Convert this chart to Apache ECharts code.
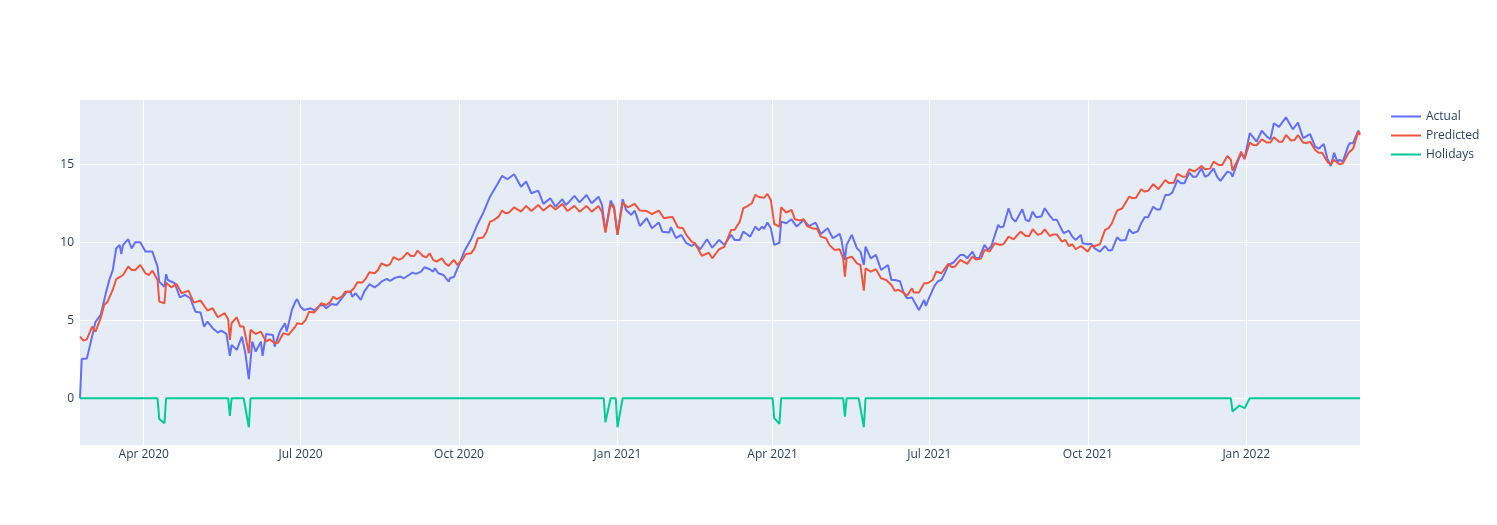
<!DOCTYPE html>
<html>
<head>
<meta charset="utf-8">
<script src="https://cdn.jsdelivr.net/npm/echarts@6/dist/echarts.min.js"></script>
<style>
html,body{margin:0;padding:0;background:#fff;}
#chart{width:1497px;height:525px;}
</style>
</head>
<body>
<div id="chart"></div>
<script>
const seriesNames = ["Actual", "Predicted", "Holidays"];
const xTickDates = ["2020-04-01","2020-07-01","2020-10-01","2021-01-01","2021-04-01","2021-07-01","2021-10-01","2022-01-01"];
const xTickLabels = ["Apr 2020","Jul 2020","Oct 2020","Jan 2021","Apr 2021","Jul 2021","Oct 2021","Jan 2022"];
const yTicks = [0, 5, 10, 15];
const xRange = ["2020-02-24", "2022-03-08"];
const yRange = [-3, 19.12];

const actual = [["2020-02-24",0],["2020-02-25",2.52],["2020-02-28",2.55],["2020-03-02",3.95],["2020-03-04",4.9],["2020-03-07",5.34],["2020-03-10",6.73],["2020-03-12",7.58],["2020-03-14",8.2],["2020-03-16",9.6],["2020-03-18",9.83],["2020-03-19",9.25],["2020-03-20",9.83],["2020-03-23",10.19],["2020-03-25",9.6],["2020-03-27",10.0],["2020-03-30",10.0],["2020-04-02",9.4],["2020-04-06",9.4],["2020-04-09",8.44],["2020-04-10",7.47],["2020-04-13",7.15],["2020-04-14",7.95],["2020-04-15",7.58],["2020-04-19",7.37],["2020-04-22",6.47],["2020-04-25",6.62],["2020-04-28",6.41],["2020-05-01",5.55],["2020-05-04",5.49],["2020-05-06",4.59],["2020-05-08",4.91],["2020-05-11",4.49],["2020-05-14",4.21],["2020-05-16",4.33],["2020-05-19",4.12],["2020-05-21",2.71],["2020-05-22",3.42],["2020-05-25",3.1],["2020-05-28",3.95],["2020-05-30",2.88],["2020-06-01",1.22],["2020-06-03",3.63],["2020-06-05",2.99],["2020-06-08",3.63],["2020-06-09",2.71],["2020-06-11",4.12],["2020-06-15",4.06],["2020-06-16",3.31],["2020-06-19",4.27],["2020-06-22",4.81],["2020-06-23",4.27],["2020-06-26",5.66],["2020-06-28",6.19],["2020-06-29",6.35],["2020-07-01",5.87],["2020-07-03",5.66],["2020-07-07",5.77],["2020-07-09",5.62],["2020-07-12",5.92],["2020-07-14",5.98],["2020-07-16",5.77],["2020-07-19",6.04],["2020-07-22",5.98],["2020-07-25",6.41],["2020-07-28",6.83],["2020-07-30",6.83],["2020-07-31",6.51],["2020-08-02",6.73],["2020-08-05",6.3],["2020-08-07",6.83],["2020-08-10",7.31],["2020-08-13",7.11],["2020-08-15",7.26],["2020-08-17",7.47],["2020-08-20",7.65],["2020-08-22",7.52],["2020-08-25",7.73],["2020-08-28",7.8],["2020-08-30",7.69],["2020-09-02",7.9],["2020-09-04",8.05],["2020-09-06",7.97],["2020-09-09",8.12],["2020-09-11",8.4],["2020-09-14",8.27],["2020-09-16",8.12],["2020-09-17",8.33],["2020-09-19",8.01],["2020-09-22",7.9],["2020-09-25",7.47],["2020-09-26",7.73],["2020-09-28",7.76],["2020-10-01",8.54],["2020-10-04",9.4],["2020-10-08",10.19],["2020-10-12",11.22],["2020-10-15",11.86],["2020-10-19",12.92],["2020-10-23",13.67],["2020-10-26",14.25],["2020-10-29",14.04],["2020-10-30",14.0],["2020-11-02",14.36],["2020-11-06",13.56],["2020-11-09",13.89],["2020-11-12",13.14],["2020-11-16",13.31],["2020-11-19",12.46],["2020-11-23",12.82],["2020-11-26",12.28],["2020-11-30",12.76],["2020-12-02",12.39],["2020-12-04",12.6],["2020-12-07",12.97],["2020-12-10",12.56],["2020-12-14",13.03],["2020-12-17",12.5],["2020-12-21",12.92],["2020-12-23",12.39],["2020-12-25",10.68],["2020-12-28",12.67],["2020-12-30",12.28],["2021-01-01",10.47],["2021-01-04",12.76],["2021-01-06",12.07],["2021-01-09",11.75],["2021-01-11",12.03],["2021-01-14",11.04],["2021-01-18",11.54],["2021-01-21",10.9],["2021-01-25",11.26],["2021-01-27",10.68],["2021-01-31",10.62],["2021-02-01",10.96],["2021-02-04",10.26],["2021-02-07",10.47],["2021-02-10",9.94],["2021-02-13",9.76],["2021-02-15",9.89],["2021-02-18",9.55],["2021-02-22",10.19],["2021-02-25",9.65],["2021-03-01",10.15],["2021-03-04",9.84],["2021-03-08",10.47],["2021-03-10",10.15],["2021-03-13",10.15],["2021-03-15",10.68],["2021-03-17",10.53],["2021-03-19",10.36],["2021-03-22",11.0],["2021-03-24",10.77],["2021-03-26",11.0],["2021-03-27",10.85],["2021-03-29",11.26],["2021-03-31",10.9],["2021-04-02",9.83],["2021-04-05",9.97],["2021-04-06",11.32],["2021-04-09",11.22],["2021-04-12",11.47],["2021-04-15",11.0],["2021-04-19",11.43],["2021-04-22",11.04],["2021-04-26",11.26],["2021-04-29",10.53],["2021-05-03",10.9],["2021-05-06",10.26],["2021-05-10",10.53],["2021-05-11",10.15],["2021-05-13",8.87],["2021-05-14",9.83],["2021-05-17",10.47],["2021-05-20",9.61],["2021-05-22",9.4],["2021-05-24",8.54],["2021-05-25",9.72],["2021-05-28",8.97],["2021-05-31",9.19],["2021-06-03",8.22],["2021-06-07",8.54],["2021-06-09",7.58],["2021-06-11",7.58],["2021-06-14",7.5],["2021-06-16",6.77],["2021-06-18",6.41],["2021-06-21",6.45],["2021-06-23",6.04],["2021-06-25",5.66],["2021-06-28",6.3],["2021-06-29",5.92],["2021-07-01",6.47],["2021-07-04",7.2],["2021-07-06",7.5],["2021-07-08",7.58],["2021-07-10",8.01],["2021-07-12",8.54],["2021-07-15",8.7],["2021-07-19",9.19],["2021-07-21",9.19],["2021-07-23",8.97],["2021-07-26",9.4],["2021-07-28",8.97],["2021-07-30",9.0],["2021-08-02",9.83],["2021-08-04",9.51],["2021-08-06",9.76],["2021-08-10",11.11],["2021-08-11",10.96],["2021-08-13",11.0],["2021-08-16",12.18],["2021-08-18",11.54],["2021-08-20",11.32],["2021-08-24",12.11],["2021-08-26",11.43],["2021-08-28",11.35],["2021-08-30",11.96],["2021-09-01",11.6],["2021-09-04",11.65],["2021-09-06",12.18],["2021-09-09",11.69],["2021-09-11",11.43],["2021-09-13",11.45],["2021-09-15",11.0],["2021-09-17",10.58],["2021-09-20",10.74],["2021-09-22",10.36],["2021-09-24",10.15],["2021-09-27",10.47],["2021-09-28",9.94],["2021-10-01",9.87],["2021-10-03",9.9],["2021-10-05",9.61],["2021-10-08",9.4],["2021-10-11",9.76],["2021-10-13",9.47],["2021-10-15",9.5],["2021-10-18",10.32],["2021-10-20",10.11],["2021-10-23",10.15],["2021-10-25",10.83],["2021-10-27",10.58],["2021-10-30",10.7],["2021-11-01",11.22],["2021-11-03",11.6],["2021-11-05",11.6],["2021-11-08",12.28],["2021-11-10",12.1],["2021-11-12",12.1],["2021-11-15",13.03],["2021-11-17",13.03],["2021-11-19",13.18],["2021-11-22",13.99],["2021-11-24",13.78],["2021-11-26",13.78],["2021-11-29",14.46],["2021-12-01",14.2],["2021-12-03",14.2],["2021-12-06",14.74],["2021-12-08",14.2],["2021-12-10",14.3],["2021-12-13",14.74],["2021-12-15",14.2],["2021-12-17",13.93],["2021-12-21",14.53],["2021-12-23",14.45],["2021-12-24",14.2],["2021-12-27",15.17],["2021-12-29",15.7],["2021-12-30",15.81],["2021-12-31",15.39],["2022-01-03",16.99],["2022-01-04",17.09],["2022-01-07",16.45],["2022-01-10",17.15],["2022-01-13",16.77],["2022-01-15",16.6],["2022-01-17",17.63],["2022-01-20",17.4],["2022-01-21",17.45],["2022-01-24",18.01],["2022-01-28",17.24],["2022-01-31",17.67],["2022-02-03",16.67],["2022-02-05",16.8],["2022-02-07",16.94],["2022-02-10",16.13],["2022-02-12",16.0],["2022-02-15",16.3],["2022-02-17",15.38],["2022-02-19",14.89],["2022-02-21",15.74],["2022-02-23",15.1],["2022-02-24",15.3],["2022-02-26",15.17],["2022-03-01",16.13],["2022-03-02",16.35],["2022-03-04",16.35],["2022-03-07",17.15],["2022-03-08",16.99]];

const predicted = [["2020-02-24",3.95],["2020-02-26",3.69],["2020-02-28",3.77],["2020-03-02",4.59],["2020-03-04",4.27],["2020-03-07",5.13],["2020-03-09",5.98],["2020-03-11",6.19],["2020-03-14",6.94],["2020-03-16",7.63],["2020-03-18",7.76],["2020-03-20",7.9],["2020-03-23",8.44],["2020-03-25",8.22],["2020-03-27",8.22],["2020-03-30",8.54],["2020-04-02",8.01],["2020-04-04",7.9],["2020-04-06",8.18],["2020-04-09",7.58],["2020-04-10",6.19],["2020-04-13",6.09],["2020-04-14",7.41],["2020-04-17",7.11],["2020-04-20",7.33],["2020-04-23",6.73],["2020-04-27",6.9],["2020-04-30",6.13],["2020-05-04",6.26],["2020-05-08",5.62],["2020-05-11",5.77],["2020-05-14",5.19],["2020-05-18",5.45],["2020-05-20",5.06],["2020-05-21",3.74],["2020-05-22",4.81],["2020-05-25",5.19],["2020-05-27",4.59],["2020-05-29",4.59],["2020-06-01",2.88],["2020-06-02",4.38],["2020-06-05",4.12],["2020-06-08",4.27],["2020-06-11",3.63],["2020-06-13",3.78],["2020-06-16",3.53],["2020-06-18",3.55],["2020-06-21",4.17],["2020-06-24",4.06],["2020-06-28",4.59],["2020-06-29",4.81],["2020-07-02",4.76],["2020-07-04",5.02],["2020-07-06",5.55],["2020-07-09",5.5],["2020-07-11",5.77],["2020-07-13",6.09],["2020-07-16",5.98],["2020-07-18",6.13],["2020-07-20",6.51],["2020-07-22",6.35],["2020-07-25",6.51],["2020-07-27",6.83],["2020-07-30",6.83],["2020-08-01",7.05],["2020-08-03",7.44],["2020-08-06",7.42],["2020-08-08",7.69],["2020-08-10",8.08],["2020-08-13",8.01],["2020-08-15",8.22],["2020-08-17",8.65],["2020-08-20",8.48],["2020-08-22",8.6],["2020-08-24",9.04],["2020-08-27",8.87],["2020-08-29",8.97],["2020-09-01",9.33],["2020-09-03",9.12],["2020-09-05",9.12],["2020-09-07",9.46],["2020-09-10",9.12],["2020-09-12",9.04],["2020-09-14",9.29],["2020-09-16",8.87],["2020-09-18",8.76],["2020-09-21",8.97],["2020-09-23",8.65],["2020-09-25",8.48],["2020-09-28",8.87],["2020-09-30",8.54],["2020-10-03",8.87],["2020-10-05",9.25],["2020-10-08",9.29],["2020-10-10",9.61],["2020-10-12",10.26],["2020-10-15",10.3],["2020-10-17",10.68],["2020-10-19",11.32],["2020-10-21",11.4],["2020-10-24",11.64],["2020-10-26",12.03],["2020-10-28",11.86],["2020-10-30",11.9],["2020-11-02",12.24],["2020-11-06",11.96],["2020-11-09",12.33],["2020-11-12",12.0],["2020-11-16",12.39],["2020-11-19",12.03],["2020-11-23",12.39],["2020-11-26",12.1],["2020-11-30",12.46],["2020-12-03",12.0],["2020-12-07",12.33],["2020-12-10",11.96],["2020-12-14",12.33],["2020-12-17",11.96],["2020-12-21",12.33],["2020-12-23",11.96],["2020-12-25",10.62],["2020-12-28",12.46],["2020-12-30",12.17],["2021-01-01",10.47],["2021-01-04",12.54],["2021-01-07",12.24],["2021-01-11",12.46],["2021-01-14",12.03],["2021-01-18",12.0],["2021-01-21",11.81],["2021-01-25",12.03],["2021-01-28",11.54],["2021-01-31",11.6],["2021-02-02",11.62],["2021-02-05",10.96],["2021-02-08",10.9],["2021-02-10",10.47],["2021-02-13",10.04],["2021-02-15",9.94],["2021-02-19",9.12],["2021-02-23",9.33],["2021-02-25",8.97],["2021-03-01",9.55],["2021-03-04",9.7],["2021-03-05",9.72],["2021-03-08",10.79],["2021-03-10",10.8],["2021-03-13",11.32],["2021-03-15",12.18],["2021-03-17",12.28],["2021-03-20",12.5],["2021-03-22",13.03],["2021-03-24",12.9],["2021-03-27",12.85],["2021-03-29",13.1],["2021-03-31",12.71],["2021-04-02",11.17],["2021-04-05",11.0],["2021-04-06",12.24],["2021-04-09",11.9],["2021-04-12",12.07],["2021-04-14",11.47],["2021-04-17",11.4],["2021-04-19",11.47],["2021-04-21",11.04],["2021-04-24",10.9],["2021-04-27",10.85],["2021-04-29",10.36],["2021-05-02",10.26],["2021-05-04",9.83],["2021-05-07",9.51],["2021-05-10",9.55],["2021-05-12",8.97],["2021-05-13",7.8],["2021-05-14",8.97],["2021-05-17",9.08],["2021-05-20",8.65],["2021-05-22",8.55],["2021-05-24",6.9],["2021-05-25",8.33],["2021-05-28",8.12],["2021-05-31",8.27],["2021-06-03",7.69],["2021-06-06",7.58],["2021-06-09",7.26],["2021-06-11",6.88],["2021-06-13",6.95],["2021-06-16",6.77],["2021-06-18",6.56],["2021-06-21",7.05],["2021-06-22",6.77],["2021-06-25",6.77],["2021-06-28",7.37],["2021-06-30",7.37],["2021-07-03",7.58],["2021-07-05",8.12],["2021-07-08",8.01],["2021-07-09",8.0],["2021-07-12",8.61],["2021-07-14",8.4],["2021-07-16",8.45],["2021-07-19",8.87],["2021-07-23",8.61],["2021-07-26",9.08],["2021-07-28",8.9],["2021-07-31",8.95],["2021-08-02",9.51],["2021-08-05",9.4],["2021-08-08",9.94],["2021-08-11",9.83],["2021-08-13",9.87],["2021-08-16",10.36],["2021-08-19",10.19],["2021-08-23",10.68],["2021-08-26",10.4],["2021-08-28",10.4],["2021-08-30",10.83],["2021-09-02",10.47],["2021-09-04",10.55],["2021-09-06",10.83],["2021-09-09",10.4],["2021-09-11",10.5],["2021-09-13",10.5],["2021-09-16",10.04],["2021-09-18",10.15],["2021-09-20",9.76],["2021-09-22",9.87],["2021-09-24",9.55],["2021-09-27",9.76],["2021-10-01",9.4],["2021-10-03",9.76],["2021-10-05",9.76],["2021-10-08",9.87],["2021-10-11",10.79],["2021-10-13",10.9],["2021-10-15",11.22],["2021-10-18",12.03],["2021-10-21",12.18],["2021-10-25",12.92],["2021-10-27",12.82],["2021-10-29",12.85],["2021-11-01",13.4],["2021-11-03",13.25],["2021-11-05",13.3],["2021-11-08",13.72],["2021-11-11",13.4],["2021-11-15",13.99],["2021-11-17",13.8],["2021-11-20",13.82],["2021-11-22",14.38],["2021-11-25",14.2],["2021-11-27",14.22],["2021-11-29",14.68],["2021-12-02",14.53],["2021-12-03",14.53],["2021-12-06",14.89],["2021-12-08",14.68],["2021-12-11",14.72],["2021-12-13",15.17],["2021-12-16",14.95],["2021-12-18",14.95],["2021-12-21",15.53],["2021-12-23",15.3],["2021-12-24",14.59],["2021-12-27",15.28],["2021-12-29",15.81],["2021-12-30",15.78],["2021-12-31",15.32],["2022-01-03",16.39],["2022-01-05",16.24],["2022-01-07",16.22],["2022-01-10",16.6],["2022-01-13",16.39],["2022-01-15",16.39],["2022-01-17",16.73],["2022-01-20",16.45],["2022-01-22",16.45],["2022-01-24",16.88],["2022-01-27",16.52],["2022-01-29",16.55],["2022-01-31",16.88],["2022-02-03",16.39],["2022-02-05",16.35],["2022-02-07",16.45],["2022-02-10",15.92],["2022-02-12",15.74],["2022-02-14",15.74],["2022-02-17",15.17],["2022-02-19",15.0],["2022-02-21",15.28],["2022-02-24",15.0],["2022-02-26",15.05],["2022-03-01",15.66],["2022-03-02",15.81],["2022-03-04",16.0],["2022-03-07",17.09],["2022-03-08",16.88]];

const holidays = [["2020-02-24",0],["2020-04-09",0],["2020-04-10",-1.33],["2020-04-13",-1.6],["2020-04-14",0],["2020-05-20",0],["2020-05-21",-1.13],["2020-05-22",0],["2020-05-29",0],["2020-06-01",-1.86],["2020-06-02",0],["2020-12-24",0],["2020-12-25",-1.54],["2020-12-28",0],["2020-12-31",0],["2021-01-01",-1.86],["2021-01-04",0],["2021-04-01",0],["2021-04-02",-1.28],["2021-04-05",-1.65],["2021-04-06",0],["2021-05-12",0],["2021-05-13",-1.18],["2021-05-14",0],["2021-05-21",0],["2021-05-24",-1.86],["2021-05-25",0],["2021-12-23",0],["2021-12-24",-0.86],["2021-12-28",-0.47],["2021-12-31",-0.64],["2022-01-03",0],["2022-03-08",0]];

const colors = ["#636EFA", "#EF553B", "#00CC96"];

function toTime(s) {
  const p = s.split("-").map(Number);
  return new Date(p[0], p[1] - 1, p[2]).getTime();
}
function conv(arr) { return arr.map(d => [toTime(d[0]), d[1]]); }

const xTickValues = xTickDates.map(toTime);
const labelByTime = {};
xTickValues.forEach((t, i) => { labelByTime[t] = xTickLabels[i]; });

const font = "'Open Sans', 'Noto Sans', sans-serif";
const chart = echarts.init(document.getElementById("chart"));
chart.setOption({
  animation: false,
  backgroundColor: "#ffffff",
  color: colors,
  grid: {
    left: 80, right: 137, top: 100, bottom: 80,
    show: true, backgroundColor: "#E5ECF6", borderWidth: 0
  },
  legend: {
    orient: "vertical",
    left: 1391, top: 110.5, padding: 0,
    itemWidth: 30, itemHeight: 2, itemGap: 7,
    icon: "rect",
    data: seriesNames,
    textStyle: { fontFamily: font, fontSize: 12, color: "#2a3f5f" }
  },
  xAxis: {
    type: "value",
    min: toTime(xRange[0]),
    max: toTime(xRange[1]),
    axisLine: { show: false },
    axisTick: { show: false, customValues: xTickValues },
    splitLine: { show: true, lineStyle: { color: "#ffffff", width: 1 } },
    axisLabel: {
      customValues: xTickValues,
      margin: 4,
      fontFamily: font, fontSize: 12, color: "#2a3f5f",
      formatter: v => labelByTime[v] || ""
    }
  },
  yAxis: {
    type: "value",
    min: yRange[0], max: yRange[1],
    axisLine: { show: false },
    axisTick: { show: false, customValues: yTicks },
    splitLine: { show: true, lineStyle: { color: "#ffffff", width: 1 } },
    axisLabel: {
      customValues: yTicks,
      margin: 6,
      fontFamily: font, fontSize: 12, color: "#2a3f5f"
    }
  },
  series: [
    { name: seriesNames[0], type: "line", data: conv(actual), showSymbol: false, symbol: "none", lineStyle: { width: 2, color: colors[0] }, itemStyle: { color: colors[0] } },
    { name: seriesNames[1], type: "line", data: conv(predicted), showSymbol: false, symbol: "none", lineStyle: { width: 2, color: colors[1] }, itemStyle: { color: colors[1] } },
    { name: seriesNames[2], type: "line", data: conv(holidays), showSymbol: false, symbol: "none", lineStyle: { width: 2, color: colors[2] }, itemStyle: { color: colors[2] } }
  ]
});
</script>
</body>
</html>
